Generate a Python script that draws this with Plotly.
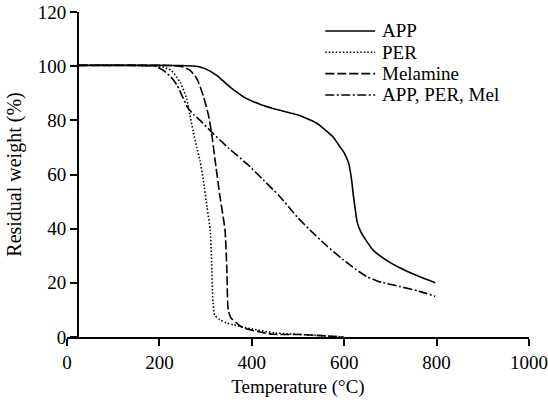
import plotly.graph_objects as go

# Temperature (°C) and residual weight (%)
app_t = [25, 100, 200, 250, 280, 300, 324, 353, 389, 420, 461, 500, 519, 540, 555, 575,
         591, 600, 610, 616, 620, 624, 628, 635, 648, 663, 690, 721, 760, 797]
app_w = [100.3, 100.3, 100.3, 100.2, 100.0, 99.0, 96.6, 92.3, 88.0, 85.8, 83.7, 82.0, 80.7,
         79.0, 77.0, 74.0, 70.2, 68.0, 64.0, 58.0, 52.0, 47.0, 42.5, 39.2, 35.5, 32.0, 28.5,
         25.5, 22.5, 20.0]

per_t = [25, 150, 200, 225, 245, 259, 266, 273, 281, 288, 295, 303, 310, 313, 316, 320,
         331, 345, 360, 400, 450, 500, 550, 600]
per_w = [100.3, 100.3, 100.0, 98.5, 94.0, 88.0, 82.0, 76.0, 70.0, 65.0, 58.0, 48.0, 39.5,
         28.0, 12.6, 8.0, 6.4, 5.2, 4.5, 3.0, 1.5, 1.0, 0.5, 0.0]

mel_t = [25, 150, 230, 252, 266, 281, 295, 306, 313, 320, 331, 342, 346, 349, 355, 367,
         380, 411, 446, 505, 570, 595]
mel_w = [100.3, 100.3, 100.2, 99.7, 98.5, 95.4, 89.0, 82.0, 75.3, 66.0, 52.0, 39.5, 25.0,
         10.0, 7.0, 5.2, 3.5, 2.1, 1.0, 0.9, 0.3, 0.0]

mix_t = [25, 150, 190, 208, 225, 238, 252, 262, 275, 288, 313, 350, 389, 425, 461, 500,
         526, 560, 598, 625, 649, 670, 685, 721, 760, 797]
mix_w = [100.3, 100.3, 100.0, 98.5, 96.0, 93.0, 88.0, 84.5, 82.0, 80.0, 75.7, 69.7, 64.0,
         58.0, 51.8, 44.0, 39.5, 34.0, 28.5, 25.0, 22.3, 20.8, 20.0, 18.6, 17.0, 15.0]

series_names = ["APP", "PER", "Melamine", "APP, PER, Mel"]
series_dash = ["solid", "1.5px,2px", "9px,3px", "9px,2.5px,2px,2.5px"]

x_ticks = [0, 200, 400, 600, 800, 1000]
y_ticks = [0, 20, 40, 60, 80, 100, 120]

FONT = "Liberation Serif"
FS = 19
LW = 1.6

fig = go.Figure()
for (t, w), name, dash in zip([(app_t, app_w), (per_t, per_w), (mel_t, mel_w), (mix_t, mix_w)],
                              series_names, series_dash):
    fig.add_trace(go.Scatter(x=t, y=w, mode="lines", name=name, showlegend=False,
                             line=dict(color="black", width=LW, dash=dash,
                                       shape="spline", smoothing=0.6)))

# compact legend (row spacing tighter than plotly's built-in legend allows)
leg_x0, leg_x1, leg_tx = 0.559, 0.667, 0.677
leg_y0, leg_dy = 0.9416, 0.0656
shapes, annotations = [], []
for i, (name, dash) in enumerate(zip(series_names, series_dash)):
    yy = leg_y0 - i * leg_dy
    shapes.append(dict(type="line", xref="paper", yref="paper", x0=leg_x0, x1=leg_x1,
                       y0=yy, y1=yy, line=dict(color="black", width=LW, dash=dash)))
    annotations.append(dict(xref="paper", yref="paper", x=leg_tx, y=yy, text=name,
                            showarrow=False, xanchor="left", yanchor="middle",
                            font=dict(family=FONT, size=FS, color="black")))

fig.update_layout(
    width=548, height=402,
    margin=dict(l=67, r=19, t=12, b=65),
    paper_bgcolor="white", plot_bgcolor="white",
    font=dict(family=FONT, size=FS, color="black"),
    showlegend=False,
    shapes=shapes, annotations=annotations,
    xaxis=dict(range=[0, 1000], tickvals=x_ticks, ticks="outside", ticklen=7,
               tickwidth=2, tickcolor="black", showline=True, linecolor="black",
               linewidth=2, showgrid=False, zeroline=False, automargin=False,
               title=dict(text="Temperature (°C)", standoff=8,
                          font=dict(family=FONT, size=FS, color="black")),
               tickfont=dict(family=FONT, size=FS, color="black")),
    yaxis=dict(range=[0, 120], tickvals=y_ticks, ticks="outside", ticklen=7,
               tickwidth=2, tickcolor="black", showline=True, linecolor="black",
               linewidth=2, showgrid=False, zeroline=False, automargin=False,
               anchor="free", position=0.024,
               title=dict(text="Residual weight (%)", standoff=10,
                          font=dict(family=FONT, size=20, color="black")),
               tickfont=dict(family=FONT, size=FS, color="black")),
)

fig.write_html("out.html")
